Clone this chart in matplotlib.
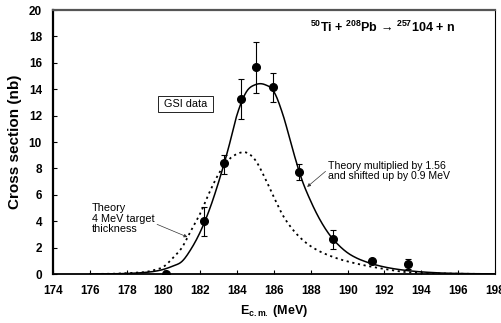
import numpy as np
import matplotlib
matplotlib.use('Agg')
import matplotlib.pyplot as plt

plt.rcParams['font.family'] = ['Liberation Sans', 'DejaVu Sans']
plt.rcParams['mathtext.fontset'] = 'custom'
plt.rcParams['mathtext.rm'] = 'Liberation Sans'
plt.rcParams['mathtext.bf'] = 'Liberation Sans:bold'
plt.rcParams['mathtext.it'] = 'Liberation Sans:italic'

# GSI data points
e_data = [180.15, 182.2, 183.3, 184.2, 185.0, 185.95, 187.35, 189.2, 191.3, 193.3]
s_data = [0.0, 4.0, 8.4, 13.25, 15.65, 14.15, 7.7, 2.65, 0.97, 0.75]
err_lo = [0.0, 1.1, 0.8, 1.5, 1.9, 1.1, 0.6, 0.75, 0.0, 0.4]
err_hi = [0.0, 1.1, 0.6, 1.5, 1.9, 1.1, 0.6, 0.7, 0.0, 0.4]

# theory multiplied by 1.56 and shifted by 0.9 MeV (solid)
e_fit = [176.0, 177.0, 177.5, 178.0, 178.5, 179.0, 179.5, 180.0, 180.5, 181.0,
         181.5, 182.0, 182.5, 183.0, 183.5, 184.0, 184.5, 185.0, 185.5, 186.0,
         186.5, 187.0, 187.5, 188.0, 188.5, 189.0, 189.5, 190.0, 190.5, 191.0,
         191.5, 192.0, 192.5, 193.0, 193.5, 194.0, 195.0, 196.0, 197.0, 198.0]
s_fit = [0.0, 0.01, 0.02, 0.04, 0.07, 0.12, 0.2, 0.35, 0.6, 0.95,
         1.9, 3.2, 4.9, 7.0, 9.4, 12.1, 13.8, 14.35, 14.35, 13.8,
         12.0, 9.5, 7.2, 5.5, 4.1, 3.0, 2.2, 1.6, 1.2, 0.92,
         0.7, 0.53, 0.4, 0.3, 0.22, 0.16, 0.08, 0.04, 0.02, 0.01]

# theory, 4 MeV target thickness (dotted)
e_th = [176.0, 177.0, 177.5, 178.0, 178.5, 179.0, 179.5, 180.0, 180.5, 181.0,
        181.5, 182.0, 182.5, 183.0, 183.5, 184.0, 184.5, 185.0, 185.5, 186.0,
        186.5, 187.0, 187.5, 188.0, 188.5, 189.0, 189.5, 190.0, 190.5, 191.0,
        191.5, 192.0, 193.0, 194.0, 195.0, 196.0, 197.0, 198.0]
s_th = [0.0, 0.01, 0.03, 0.06, 0.1, 0.15, 0.3, 0.55, 1.2, 2.0,
        3.3, 4.6, 6.2, 7.6, 8.6, 9.1, 9.2, 8.6, 7.3, 5.8,
        4.4, 3.4, 2.65, 2.1, 1.7, 1.4, 1.15, 0.95, 0.78, 0.63,
        0.5, 0.38, 0.17, 0.07, 0.04, 0.02, 0.01, 0.0]


def smooth(x, y, n=12):
    # Catmull-Rom style smoothed line (like a spreadsheet "smoothed line")
    x = np.asarray(x, float)
    y = np.asarray(y, float)
    px = np.concatenate([[2 * x[0] - x[1]], x, [2 * x[-1] - x[-2]]])
    py = np.concatenate([[2 * y[0] - y[1]], y, [2 * y[-1] - y[-2]]])
    xs, ys = [], []
    t = np.linspace(0, 1, n, endpoint=False)
    for i in range(1, len(px) - 2):
        for p, out in ((px, xs), (py, ys)):
            p0, p1, p2, p3 = p[i - 1], p[i], p[i + 1], p[i + 2]
            out.extend(0.5 * (2 * p1 + (-p0 + p2) * t
                              + (2 * p0 - 5 * p1 + 4 * p2 - p3) * t ** 2
                              + (-p0 + 3 * p1 - 3 * p2 + p3) * t ** 3))
    xs.append(x[-1])
    ys.append(y[-1])
    return np.array(xs), np.clip(np.array(ys), 0, None)


def main():
    fig = plt.figure(figsize=(5.01, 3.23), dpi=100)
    ax = fig.add_axes([0.1058, 0.1517, 0.8822, 0.8173])

    ax.plot(*smooth(e_th, s_th), color='black', linestyle=(0, (1.2, 2.0)), linewidth=1.3)
    ax.plot(*smooth(e_fit, s_fit), color='black', linewidth=1.1)
    ax.errorbar(e_data, s_data, yerr=[err_lo, err_hi], fmt='o', color='black',
                markersize=5.5, elinewidth=0.8, capsize=2.3, capthick=0.8)

    ax.set_xlim(174, 198)
    ax.set_ylim(0, 20)
    ax.set_xticks(np.arange(174, 199, 2))
    ax.set_yticks(np.arange(0, 21, 2))
    ax.tick_params(direction='in', length=3, width=0.8, labelsize=8.5)
    ax.tick_params(axis='x', pad=8)
    ax.tick_params(axis='y', pad=8)
    for lab in ax.get_xticklabels() + ax.get_yticklabels():
        lab.set_fontweight('bold')

    ax.spines['left'].set_linewidth(1.6)
    ax.spines['bottom'].set_linewidth(1.3)
    ax.spines['top'].set_linewidth(1.6)
    ax.spines['top'].set_color('#555555')
    ax.spines['right'].set_linewidth(0.8)

    ax.set_ylabel('Cross section (nb)', fontsize=11, fontweight='bold', labelpad=5)
    ax.set_xlabel(r'E$_{\mathbf{c.m.}}$ (MeV)', fontsize=9, fontweight='bold', labelpad=4)

    ax.text(195.85, 18.7,
            r'$^{\mathbf{50}}$Ti + $^{\mathbf{208}}$Pb ' + '\u2192' + r' $^{\mathbf{257}}$104 + n',
            fontsize=9, fontweight='bold', ha='right', va='center')

    ax.text(181.2, 12.88, ' GSI data ', fontsize=7.8, ha='center', va='center',
            bbox=dict(boxstyle='square,pad=0.3', facecolor='white', edgecolor='black', linewidth=0.6))

    ax.annotate('Theory\n4 MeV target\nthickness', xy=(181.3, 2.8), xytext=(176.1, 4.2),
                fontsize=7.8, ha='left', va='center', linespacing=1.05,
                arrowprops=dict(arrowstyle='-|>', color='#333333', lw=0.5,
                                mutation_scale=5, shrinkA=0, shrinkB=0,
                                relpos=(1.0, 0.35)))
    ax.annotate('Theory multiplied by 1.56\nand shifted up by 0.9 MeV', xy=(187.8, 6.6),
                xytext=(188.95, 7.8), fontsize=7.6, ha='left', va='center', linespacing=1.05,
                arrowprops=dict(arrowstyle='-|>', color='#333333', lw=0.5,
                                mutation_scale=5, shrinkA=0, shrinkB=0,
                                relpos=(0.0, 0.6)))

    fig.savefig('out.png', dpi=100)


if __name__ == '__main__':
    main()
